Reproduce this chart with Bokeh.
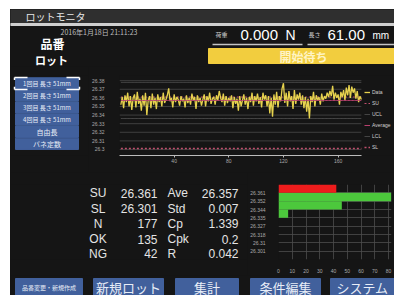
from bokeh.plotting import figure
from bokeh.models import Range1d, FixedTicker, CustomJSTickFormatter, Legend, LegendItem, Spacer
from bokeh.layouts import column, row
from bokeh.core.properties import value
from bokeh.embed import file_html
from bokeh.resources import INLINE

# ---------------- data ----------------
screen_title = "ロットモニタ"
timestamp = "2016年1月18日  21:11:23"
load_label = "荷重"
load_value = "0.000"
load_unit = "N"
length_label = "長さ"
length_value = "61.00"
length_unit = "mm"
status_text = "開始待ち"
side_buttons = ["1回目 長さ 51mm", "2回目 長さ 51mm", "3回目 長さ 51mm",
                "4回目 長さ 51mm", "自由長", "バネ定数"]
bottom_buttons = ["品番変更・新規作成", "新規ロット", "集計", "条件編集", "システム"]

SU = 26.361
SL = 26.301
AVE = 26.357
UCL = 26.378
LCL = 26.336

measurements = [
    26.352, 26.361, 26.348, 26.363, 26.355, 26.366, 26.350, 26.362, 26.346, 26.360,
    26.364, 26.349, 26.367, 26.353, 26.359, 26.345, 26.363, 26.351, 26.366, 26.340,
    26.357, 26.362, 26.348, 26.365, 26.352, 26.360, 26.347, 26.364, 26.355, 26.361,
    26.350, 26.366, 26.354, 26.358, 26.363, 26.371, 26.356, 26.360, 26.349, 26.364,
    26.355, 26.361, 26.358, 26.351, 26.362, 26.356, 26.359, 26.349, 26.363, 26.354,
    26.360, 26.352, 26.365, 26.357, 26.361, 26.347, 26.363, 26.355, 26.360, 26.351,
    26.358, 26.364, 26.350, 26.362, 26.356, 26.366, 26.353, 26.359, 26.361, 26.352,
    26.363, 26.357, 26.368, 26.360, 26.355, 26.365, 26.351, 26.362, 26.354, 26.360,
    26.356, 26.363, 26.348, 26.361, 26.353, 26.359, 26.345, 26.362, 26.350, 26.357,
    26.364, 26.352, 26.360, 26.347, 26.361, 26.355, 26.366, 26.351, 26.362, 26.356,
    26.365, 26.353, 26.361, 26.349, 26.366, 26.358, 26.363, 26.350, 26.362, 26.342,
    26.360, 26.338, 26.364, 26.352, 26.367, 26.349, 26.362, 26.356, 26.371, 26.377,
    26.354, 26.366, 26.350, 26.368, 26.356, 26.362, 26.347, 26.369, 26.353, 26.364,
    26.358, 26.366, 26.352, 26.363, 26.348, 26.361, 26.344, 26.359, 26.336, 26.362,
    26.355, 26.367, 26.350, 26.363, 26.357, 26.361, 26.352, 26.365, 26.356, 26.362,
    26.359, 26.366, 26.361, 26.368, 26.362, 26.374, 26.358, 26.366, 26.360, 26.364,
    26.352, 26.367, 26.361, 26.369, 26.357, 26.372, 26.363, 26.375, 26.360, 26.373,
    26.366, 26.371, 26.359, 26.368, 26.355, 26.362, 26.358,
]
sample_no = list(range(1, len(measurements) + 1))
line_y_ticks = [26.30, 26.31, 26.32, 26.33, 26.34, 26.35, 26.36, 26.37, 26.38]
line_x_ticks = [40, 80, 120, 160]

stat_names_left = ["SU", "SL", "N", "OK", "NG"]
stat_values_left = ["26.361", "26.301", "177", "135", "42"]
stat_names_right = ["Ave", "Std", "Cp", "Cpk", "R"]
stat_values_right = ["26.357", "0.007", "1.339", "0.2", "0.042"]

hist_bins = 7                      # bins between SL and SU, plus one above SU
hist_counts = [0, 0, 0, 0, 7, 46, 82, 42]
hist_x_ticks = [0, 10, 20, 30, 40, 50, 60, 70, 80]

# ---------------- styles ----------------
BG = "#151515"
JP = "Noto Sans CJK JP"
LAT = "Liberation Sans"
BTN = "#41609c"
BTN_TXT = "#e8edf7"


def canvas(w, h):
    p = figure(width=w, height=h, x_range=Range1d(0, w), y_range=Range1d(h, 0),
               output_backend="svg", toolbar_location=None, min_border=0,
               x_axis_location=None, y_axis_location=None)
    p.grid.visible = False
    p.outline_line_color = None
    p.background_fill_color = BG
    p.border_fill_color = BG
    return p


def txt(p, xs, ys, texts, size, color, align="left", font=JP, style="normal"):
    p.text(x=xs, y=ys, text=texts, text_font=value(font), text_font_size=f"{size}px",
           text_color=color, text_align=align, text_baseline="middle",
           text_font_style=style)


# ---------------- header ----------------
hdr = canvas(384, 57)
hdr.quad(left=0, right=384, top=0, bottom=14, color="#2f2f2f")
hdr.quad(left=0, right=384, top=14, bottom=16, color="#cfcfcf")
txt(hdr, [15], [7], [screen_title], 10, "#e8e8e8")
txt(hdr, [50], [22], [timestamp], 7, "#bdbdbd")
txt(hdr, [42], [34], ["品番"], 12, "#ffffff", "center", style="bold")
txt(hdr, [41], [50], ["ロット"], 11, "#ffffff", "center", style="bold")
txt(hdr, [205], [25], [load_label], 6, "#cccccc")
txt(hdr, [230], [25], [load_value], 15, "#ffffff", font=LAT)
txt(hdr, [275], [25], [load_unit], 14, "#ffffff", font=LAT)
txt(hdr, [298], [25], [length_label], 6, "#cccccc")
txt(hdr, [317], [25], [length_value], 15, "#ffffff", font=LAT)
txt(hdr, [362], [26], [length_unit], 10, "#ffffff", font=LAT)
hdr.segment(x0=[202, 297], y0=[35, 35], x1=[292, 384], y1=[35, 35],
            line_color="#c4c4c4", line_width=1.5)
hdr.quad(left=198, right=384, top=39, bottom=54, color="#f2cd3e")
txt(hdr, [293], [47], [status_text], 12, "#fff4c4", "center", style="bold")

# ---------------- side buttons ----------------
side = canvas(78, 106)
tops = [3 + 16 * i for i in range(len(side_buttons))]
side.quad(left=5, right=68, top=tops, bottom=[t + 15 for t in tops], color=BTN)
txt(side, [36.5] * 4, [t + 7.5 for t in tops[:4]], side_buttons[:4], 6, BTN_TXT, "center")
txt(side, [36.5] * 2, [t + 7.5 for t in tops[4:]], side_buttons[4:], 7, BTN_TXT, "center")
# selection brackets on first button
side.segment(x0=[4, 4, 56, 69, 4, 4, 56, 69], y0=[2.5, 2.5, 2.5, 2.5, 18.5, 15, 18.5, 15],
             x1=[17, 4, 69, 69, 17, 4, 69, 69], y1=[2.5, 6, 2.5, 6, 18.5, 18.5, 18.5, 18.5],
             line_color="#ffffff", line_width=1.5)

# ---------------- line chart ----------------
# frame spans to the right edge so the legend sits inside it; data occupies the left part
n = len(sample_no)
x_end = n * 282 / 248
lf = figure(width=306, height=106, x_range=Range1d(0, x_end), y_range=Range1d(26.293, 26.386),
            output_backend="svg", toolbar_location=None,
            min_border_left=24, min_border_right=0, min_border_top=9, min_border_bottom=17)
lf.background_fill_color = BG
lf.border_fill_color = BG
lf.outline_line_color = None
lf.grid.visible = False
lf.segment(x0=[0] * len(line_y_ticks), y0=line_y_ticks, x1=[n] * len(line_y_ticks), y1=line_y_ticks,
           line_color="#4a4a4a", line_width=0.8)
lf.yaxis.ticker = FixedTicker(ticks=line_y_ticks)
lf.yaxis.formatter = CustomJSTickFormatter(code="return (Math.round(tick*100)/100).toString()")
lf.xaxis.ticker = FixedTicker(ticks=line_x_ticks)
lf.xaxis.bounds = (0, n)
for ax in (lf.xaxis[0], lf.yaxis[0]):
    ax.major_label_text_font_size = "5px"
    ax.major_label_text_color = "#aaaaaa"
    ax.major_label_text_font = LAT
    ax.minor_tick_line_color = None
    ax.major_tick_in = 0
lf.yaxis.axis_line_color = None
lf.yaxis.major_tick_line_color = None
lf.yaxis.major_label_standoff = 9
lf.xaxis.axis_line_color = "#bbbbbb"
lf.xaxis.major_tick_line_color = "#bbbbbb"
lf.xaxis.major_tick_out = 2
lf.xaxis.major_label_standoff = 1

r_su = lf.line(sample_no, [SU] * n, line_color="#c0506e", line_width=1.2, line_dash="2 2")
r_ucl = lf.line(sample_no, [UCL] * n, line_color="#dddddd", line_width=0.6, line_alpha=0.4)
r_lcl = lf.line(sample_no, [LCL] * n, line_color="#dddddd", line_width=0.6, line_alpha=0.4)
r_sl = lf.line(sample_no, [SL] * n, line_color="#c0506e", line_width=1.5, line_dash="2 2")
r_data = lf.line(sample_no, measurements, line_color="#e6d24e", line_width=1.3)
r_ave = lf.line(sample_no, [AVE] * n, line_color="#b8406e", line_width=1)

legend = Legend(items=[LegendItem(label="Data", renderers=[r_data]),
                       LegendItem(label="SU", renderers=[r_su]),
                       LegendItem(label="UCL", renderers=[r_ucl]),
                       LegendItem(label="Average", renderers=[r_ave]),
                       LegendItem(label="LCL", renderers=[r_lcl]),
                       LegendItem(label="SL", renderers=[r_sl])],
                location=(245, 5))
legend.label_text_font_size = "5px"
legend.label_text_font = LAT
legend.label_text_color = "#d0d0d0"
legend.glyph_width = 6
legend.glyph_height = 6
legend.label_height = 6
legend.label_standoff = 2
legend.spacing = 5
legend.padding = 0
legend.margin = 0
legend.background_fill_alpha = 0
legend.border_line_color = None
lf.add_layout(legend)

# ---------------- stats ----------------
stats = canvas(237, 103)
row_y = [12, 33, 54, 75, 95]
txt(stats, [87.5] * 5, row_y, stat_names_left, 12, "#e4e4e4", "center", font=LAT)
txt(stats, [147] * 5, row_y, stat_values_left, 12, "#e4e4e4", "right", font=LAT)
txt(stats, [157] * 5, row_y, stat_names_right, 12, "#e4e4e4", "left", font=LAT)
txt(stats, [228] * 5, row_y, stat_values_right, 12, "#e4e4e4", "right", font=LAT)

# ---------------- histogram ----------------
bw = (SU - SL) / hist_bins
edges = [SL + i * bw for i in range(hist_bins + 1)]
centers = [SL + (i + 0.5) * bw for i in range(len(hist_counts))]
colors = ["#ee1c1c" if c - bw / 2 >= SU - 1e-9 else "#4cc83c" for c in centers]

hf = figure(width=147, height=103, x_range=Range1d(0, 82.1), y_range=Range1d(SL - bw, SU + bw),
            output_backend="svg", toolbar_location=None,
            min_border_left=28, min_border_right=3, min_border_top=12, min_border_bottom=13)
hf.background_fill_color = BG
hf.border_fill_color = BG
hf.outline_line_color = None
hf.hbar(y=centers, height=bw, left=0, right=hist_counts, fill_color=colors, line_color=None)
hf.xgrid.ticker = FixedTicker(ticks=hist_x_ticks)
hf.ygrid.ticker = FixedTicker(ticks=edges)
for g in (hf.xgrid[0], hf.ygrid[0]):
    g.grid_line_color = "#4c4c4c"
    g.grid_line_width = 0.8
hf.xaxis.ticker = FixedTicker(ticks=hist_x_ticks)
hf.yaxis.ticker = FixedTicker(ticks=edges)
hf.yaxis.formatter = CustomJSTickFormatter(code="return (Math.round(tick*1000)/1000).toString()")
for ax in (hf.xaxis[0], hf.yaxis[0]):
    ax.major_label_text_font_size = "5px"
    ax.major_label_text_color = "#aaaaaa"
    ax.major_label_text_font = LAT
    ax.minor_tick_line_color = None
    ax.major_tick_line_color = None
    ax.axis_line_color = None
hf.yaxis.major_label_standoff = 7
hf.xaxis.major_label_standoff = 3

# ---------------- bottom buttons ----------------
bot = canvas(384, 20)
b_left = [5, 83, 165, 240, 320]
b_right = [72, 153, 228, 310, 384]
bot.quad(left=b_left, right=b_right, top=3, bottom=20, color=BTN)
b_cx = [(a + b) / 2 for a, b in zip(b_left, b_right)]
txt(bot, b_cx[:1], [11.5], bottom_buttons[:1], 6, BTN_TXT, "center")
txt(bot, b_cx[1:], [11.5] * 4, bottom_buttons[1:], 13, BTN_TXT, "center")

inner = column(hdr, row(side, lf), row(stats, hf), bot, styles={"background-color": BG})
layout = column(Spacer(height=9), row(Spacer(width=10), inner))
open("out.html", "w").write(file_html(layout, INLINE))
